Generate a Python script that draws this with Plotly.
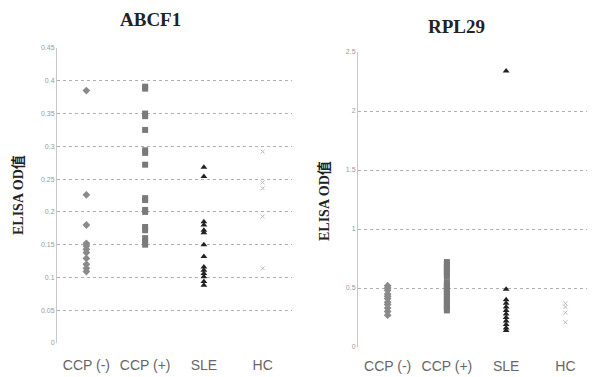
import plotly.graph_objects as go

categories = ["CCP (-)", "CCP (+)", "SLE", "HC"]

# ABCF1 ELISA OD values
abcf1_ccp_neg = [0.385, 0.226, 0.180, 0.152, 0.148, 0.143, 0.138, 0.129, 0.120, 0.114, 0.109]
abcf1_ccp_pos = [0.391, 0.388, 0.350, 0.346, 0.325, 0.294, 0.290, 0.272, 0.221, 0.218,
                 0.203, 0.200, 0.177, 0.172, 0.160, 0.155, 0.150]
abcf1_sle = [0.268, 0.254, 0.185, 0.180, 0.172, 0.168, 0.150, 0.132, 0.116, 0.111,
             0.106, 0.101, 0.094, 0.088]
abcf1_hc = [0.292, 0.245, 0.236, 0.193, 0.114]

# RPL29 ELISA OD values
rpl29_ccp_neg = [0.52, 0.50, 0.48, 0.45, 0.43, 0.41, 0.38, 0.36, 0.33, 0.30, 0.27]
rpl29_ccp_pos = [0.72, 0.70, 0.68, 0.66, 0.64, 0.62, 0.60, 0.55, 0.53, 0.51, 0.49, 0.47,
                 0.45, 0.43, 0.41, 0.39, 0.37, 0.35, 0.33, 0.31]
rpl29_sle = [2.34, 0.49, 0.40, 0.37, 0.34, 0.31, 0.28, 0.25, 0.22, 0.19, 0.16, 0.14]
rpl29_hc = [0.37, 0.34, 0.29, 0.21]

abcf1_ticks = [0, 0.05, 0.1, 0.15, 0.2, 0.25, 0.3, 0.35, 0.4, 0.45]
rpl29_ticks = [0, 0.5, 1, 1.5, 2, 2.5]

# The page body has an 8px margin, so the figure is sized to fit the window.
OFF = 8
W, H = 595 - OFF, 377 - OFF


def px(x):
    return (x - OFF) / W


def py(y):
    return 1 - (y - OFF) / H


styles = [
    dict(symbol="diamond", size=6, color="#8a8a8a"),
    dict(symbol="square", size=6, color="#7a7a7a"),
    dict(symbol="triangle-up", size=6, color="#222222"),
    dict(symbol="x-thin", size=4, color="#bbbbbb", line=dict(width=1, color="#bbbbbb")),
]

fig = go.Figure()
for xa, ya, series in [("x", "y", [abcf1_ccp_neg, abcf1_ccp_pos, abcf1_sle, abcf1_hc]),
                       ("x2", "y2", [rpl29_ccp_neg, rpl29_ccp_pos, rpl29_sle, rpl29_hc])]:
    for cat, vals, st in zip(categories, series, styles):
        fig.add_trace(go.Scatter(x=[cat] * len(vals), y=vals, mode="markers",
                                 marker=st, xaxis=xa, yaxis=ya, showlegend=False))

axis_common = dict(showgrid=True, gridcolor="#b0b0b0", griddash="dot", gridwidth=1,
                   zeroline=False, showline=True, linecolor="#c8c8c8", linewidth=1,
                   tickfont=dict(family="Liberation Sans", size=7, color="#999999"),
                   ticks="", automargin=False)
xaxis_common = dict(type="category", categoryorder="array", categoryarray=categories,
                    range=[-0.5, 3.5], showgrid=False, zeroline=False, showline=False,
                    ticks="", tickangle=0, automargin=False,
                    tickfont=dict(family="Liberation Sans", size=14, color="#666666"))

fig.update_layout(
    width=W, height=H,
    margin=dict(l=0, r=0, t=0, b=0),
    paper_bgcolor="white", plot_bgcolor="white",
    xaxis=dict(domain=[px(57), px(292)], anchor="y", ticklabelstandoff=12, **xaxis_common),
    yaxis=dict(domain=[py(343), py(48)], anchor="x", range=[0, 0.45],
               tickvals=abcf1_ticks, **axis_common),
    xaxis2=dict(domain=[px(358), 1.0], anchor="y2", ticklabelstandoff=9, **xaxis_common),
    yaxis2=dict(domain=[py(347), py(52)], anchor="x2", range=[0, 2.5],
                tickvals=rpl29_ticks, **axis_common),
)

title_font = dict(family="Liberation Serif", size=19, color="#222222")
ytitle_font = dict(family="Liberation Serif, Noto Sans CJK SC", size=14, color="#222222")


def note(text, x, y, font, angle=0):
    fig.add_annotation(text=text, x=px(x), y=py(y), xref="paper", yref="paper",
                       xanchor="center", yanchor="middle", textangle=angle,
                       showarrow=False, font=font)


note("<b>ABCF1</b>", 150, 20, title_font)
note("<b>RPL29</b>", 456, 27, title_font)
note("<b>ELISA OD值</b>", 18, 195, ytitle_font, -90)
note("<b>ELISA OD值</b>", 325, 201, ytitle_font, -90)

fig.write_html("out.html")
